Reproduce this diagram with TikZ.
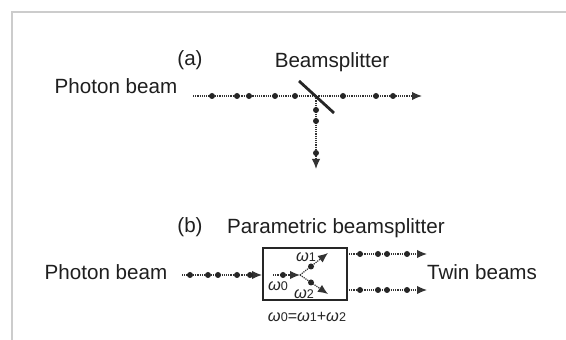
\documentclass[tikz,border=0pt]{standalone}
\usepackage{fontspec}
\setmainfont{Liberation Sans}
\usetikzlibrary{arrows.meta}
\newcommand{\omg}[1]{{\fontsize{8.2}{9}\selectfont\textit{ω}}{\fontsize{6.3}{7}\selectfont #1}}
\begin{document}
\begin{tikzpicture}[x=0.5pt,y=-0.5pt,
  beam/.style={draw=black!80, line width=0.6pt, dash pattern=on 0.6pt off 0.5pt, -{Latex[length=5pt,width=4.2pt]}},
  pdot/.style={circle, fill=black!85, inner sep=0pt, minimum size=3pt},
  lbl/.style={font=\fontsize{10.3}{12}\selectfont, inner sep=0pt, text=black!88},
  omgl/.style={inner sep=0pt, text=black!85}]
\useasboundingbox (0,0) rectangle (566,340);
\fill[white] (0,0) rectangle (566,340);
\draw[black!20, line width=1pt] (566,12) -- (12,12) -- (12,340);
% ---- (a)
\node[lbl] (la) at (190,60) {(a)};
\node[lbl] (bs) at (332,62) {Beamsplitter};
\node[lbl] (pa) at (116,86) {Photon beam};
\coordinate (a0) at (193,96);
\coordinate (ax) at (316,96);
\coordinate (a1) at (422,96);
\coordinate (a2) at (316,169);
\draw[beam] (a0) -- (a1);
\draw[beam] (ax) -- (a2);
\coordinate (s1) at (299,81);
\coordinate (s2) at (334,113);
\draw[line width=1.4pt, black!85] (s1) -- (s2);
\foreach \x in {212,237,249,275,295,343,376,393} \node[pdot] at (\x,96) {};
\foreach \y in {110,121,153} \node[pdot] at (316,\y) {};
% ---- (b)
\node[lbl] (lb) at (190,227) {(b)};
\node[lbl] (pbs) at (336,228) {Parametric beamsplitter};
\node[draw=black!85, line width=1pt, minimum width=42pt, minimum height=26pt, inner sep=0pt] (box) at (305,274) {};
\node[lbl] (pb) at (106,272) {Photon beam};
\node[lbl] (tw) at (482,272) {Twin beams};
\coordinate (b0) at (182,275);
\draw[beam] (b0) -- (b0 -| box.west);
\foreach \x in {190,208,218,237,250} \node[pdot] at (\x,275) {};
\coordinate (c0) at (273,275);
\coordinate (c1) at (300,275);
\coordinate (u) at (328,253);
\coordinate (d) at (328,294);
\draw[beam] (c0) -- (c1);
\draw[beam] (c1) -- (u);
\draw[beam] (c1) -- (d);
\node[pdot] at (283,275) {};
\node[pdot] at (311,266.5) {};
\node[pdot] at (311,282.5) {};
\node[omgl] (w1) at (306,257) {\omg{1}};
\node[omgl] (w0) at (278,286) {\omg{0}};
\node[omgl] (w2) at (304,294) {\omg{2}};
\node[omgl] (eq) at (307,317) {\omg{0}{\fontsize{8}{9}\selectfont=}\omg{1}{\fontsize{8}{9}\selectfont+}\omg{2}};
\coordinate (t0) at (349,254);
\coordinate (t1) at (427,254);
\coordinate (q0) at (349,290);
\coordinate (q1) at (427,290);
\draw[beam] (t0) -- (t1);
\draw[beam] (q0) -- (q1);
\foreach \x in {360,378,387,407} {\node[pdot] at (\x,254) {}; \node[pdot] at (\x,290) {};}
\end{tikzpicture}
\end{document}
